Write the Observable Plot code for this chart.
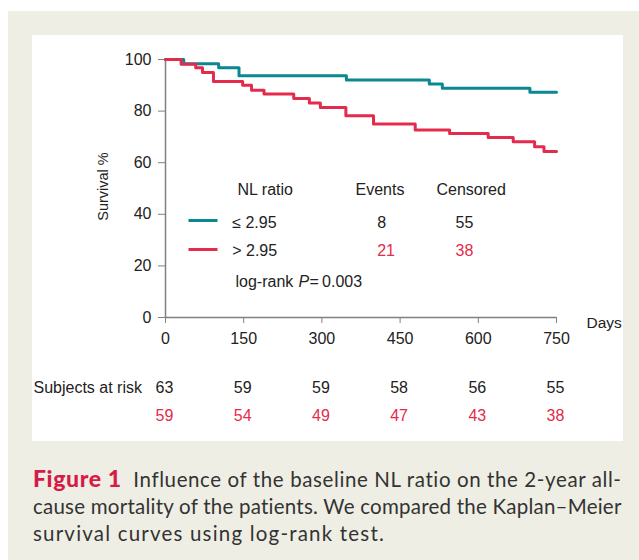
<!DOCTYPE html>
<html><head><meta charset="utf-8">
<script src="https://cdn.jsdelivr.net/npm/d3@7"></script>
<script src="https://cdn.jsdelivr.net/npm/@observablehq/plot@0.6"></script>
<style>
html,body{margin:0;padding:0;background:#fff;}
#frame{position:absolute;left:8px;top:11px;width:631px;height:549px;background:#efeee4;overflow:hidden;}
#panel{position:absolute;left:24px;top:24px;width:591px;height:406px;background:#fff;}
#caption{position:absolute;left:25px;top:454px;font-family:Lato,"Open Sans",sans-serif;font-size:20.5px;line-height:27px;color:#333;white-space:nowrap;}
#caption .ln{width:max-content;}
#caption b{color:#d51c48;font-weight:900;font-size:23px;}
</style>
</head><body>
<div id="frame"><div id="panel"></div>
<div id="caption"><div class="ln"><b>Figure 1</b>&nbsp; Influence of the baseline NL ratio on the 2-year all-</div><div class="ln">cause mortality of the patients. We compared the Kaplan–Meier</div><div class="ln">survival curves using log-rank test.</div></div>
</div>
<script>
// ---- data ----
const xTicks = [0, 150, 300, 450, 600, 750];
const yTicks = [0, 20, 40, 60, 80, 100];
const groups = ["≤ 2.95", "> 2.95"];
const events = [8, 21];
const censored = [55, 38];
const riskLow = [63, 59, 59, 58, 56, 55];
const riskHigh = [59, 54, 49, 47, 43, 38];
const lowDays = [0, 35, 102, 141, 347, 506, 531, 699, 750];
const lowSurv = [100, 98.4, 96.8, 93.7, 92.1, 90.5, 88.9, 87.3, 87.3];
const highDays = [0, 30, 58, 71, 92, 148, 165, 189, 246, 276, 297, 346, 399, 479, 545, 619, 667, 708, 726, 750];
const highSurv = [100, 98.2, 96.8, 95.0, 91.5, 90.0, 88.1, 86.6, 84.9, 83.1, 81.4, 78.2, 75.0, 72.7, 71.3, 69.8, 68.1, 66.2, 64.3, 64.3];

// ---- styles ----
const TEAL = "#0a8793", RED = "#e32b4b", AX = "#808080", TXT = "#222";
const F = "'Liberation Sans', Arial, Helvetica, sans-serif";
const colors = [TEAL, RED];
const textColors = [TXT, RED];
const rowDy = [163, 191];
const swDy = [161, 190];

const lowData = lowDays.map((d, i) => ({day: d, surv: lowSurv[i]}));
const highData = highDays.map((d, i) => ({day: d, surv: highSurv[i]}));
const riskRows = xTicks.map((d, i) => ({day: d, low: riskLow[i], high: riskHigh[i]}));
const hline = {draw(ctx) { ctx.moveTo(-14.5, 0); ctx.lineTo(14.5, 0); }};
const T = {lineAnchor: "middle", fill: TXT, fontSize: 16};
const TL = {...T, frameAnchor: "top-left", textAnchor: "start"};

const marks = [
  Plot.ruleX([0], {stroke: AX, strokeWidth: 1.5}),
  Plot.ruleY([0], {stroke: AX, strokeWidth: 1.5}),
  Plot.axisY({ticks: yTicks, tickSize: 7, tickPadding: 7, fontSize: 16, stroke: AX, fill: TXT, label: null}),
  Plot.axisX({ticks: xTicks, tickSize: 6, tickPadding: 9, fontSize: 16, stroke: AX, fill: TXT, label: null}),
  Plot.line(lowData, {x: "day", y: "surv", curve: "step-after", stroke: TEAL, strokeWidth: 3}),
  Plot.line(highData, {x: "day", y: "surv", curve: "step-after", stroke: RED, strokeWidth: 3}),
  Plot.text(["Survival %"], {...T, text: d => d, frameAnchor: "left", textAnchor: "middle", rotate: -90, dx: -62, dy: -2, fontSize: 14.5}),
  Plot.text(["Days"], {...T, text: d => d, frameAnchor: "bottom-right", textAnchor: "start", dx: 30, dy: 6, fontSize: 15.5}),
  Plot.text(["Subjects at risk"], {...T, text: d => d, frameAnchor: "bottom-left", textAnchor: "start", dx: -132, dy: 70}),
  Plot.text(riskRows, {...T, x: "day", text: "low", frameAnchor: "bottom", dx: -1, dy: 70}),
  Plot.text(riskRows, {...T, x: "day", text: "high", frameAnchor: "bottom", dx: -1, dy: 98, fill: RED}),
  Plot.text(["NL ratio"], {...TL, text: d => d, dx: 72, dy: 130.5}),
  Plot.text(["Events"], {...TL, text: d => d, dx: 190, dy: 130.5}),
  Plot.text(["Censored"], {...TL, text: d => d, dx: 271, dy: 130.5}),
  Plot.text(["log-rank"], {...TL, text: d => d, dx: 70, dy: 222.7}),
  Plot.text(["P"], {...TL, text: d => d, dx: 133, dy: 222.7, fontStyle: "italic"}),
  Plot.text(["=\u20090.003"], {...TL, text: d => d, dx: 144, dy: 222.7})
];
groups.forEach((g, i) => {
  marks.push(
    Plot.dot([g], {frameAnchor: "top-left", dx: 37.5, dy: swDy[i], symbol: hline, stroke: colors[i], strokeWidth: 3, fill: "none"}),
    Plot.text([g], {...TL, text: d => d, dx: 66.7, dy: rowDy[i]}),
    Plot.text([events[i]], {...TL, text: d => d, dx: 211.7, dy: rowDy[i], fill: textColors[i]}),
    Plot.text([censored[i]], {...TL, text: d => d, dx: 290, dy: rowDy[i], fill: textColors[i]})
  );
});

const chart = Plot.plot({
  width: 591, height: 406,
  marginLeft: 133, marginRight: 67, marginTop: 24, marginBottom: 124,
  style: {fontFamily: F, fontSize: "16px", background: "transparent", overflow: "visible"},
  x: {domain: [0, 750]},
  y: {domain: [0, 100]},
  marks
});
document.getElementById("panel").appendChild(chart);

// fit caption lines to the reference line lengths
const lineWidths = [589, 589, 352];
document.querySelectorAll("#caption .ln").forEach((el, i) => {
  const w = el.getBoundingClientRect().width;
  const n = el.textContent.length;
  el.style.letterSpacing = ((lineWidths[i] - w) / n) + "px";
});
</script>
</body></html>
